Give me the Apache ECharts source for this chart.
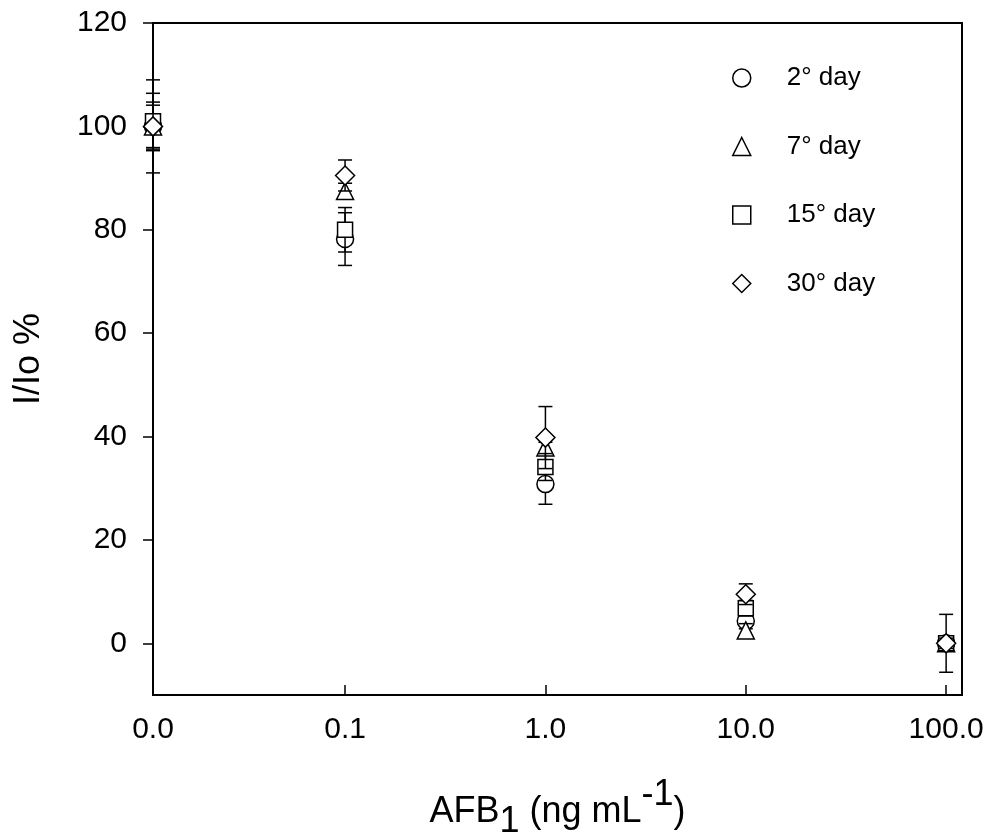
<!DOCTYPE html>
<html>
<head>
<meta charset="utf-8">
<script src="https://cdn.jsdelivr.net/npm/echarts@6/dist/echarts.min.js"></script>
<style>
html,body{margin:0;padding:0;background:#fff;}
#chart{width:995px;height:834px;}
</style>
</head>
<body>
<div id="chart"></div>
<script>
// ---- data ----
const concentrations = [0, 0.1, 1, 10, 100];        // AFB1 (ng mL-1); 0 is drawn at the axis origin
const xAxisMin = 0.011;                               // log-axis origin where concentration 0 is plotted
const xAxisMax = 120;
const xTickValues = [0.011, 0.1, 1, 10, 100];
const xTickLabels = ['0.0', '0.1', '1.0', '10.0', '100.0'];
const yTickValues = [0, 20, 40, 60, 80, 100, 120];
const seriesNames = ['2° day', '7° day', '15° day', '30° day'];
const seriesSymbols = ['circle', 'triangle', 'rect', 'diamond'];
const seriesSymbolSizes = [17, 17, 15, 19];
const day2Mean  = [100, 78.2, 30.8, 4.3, 0];
const day2Err   = [9.0, 5.1, 3.9, 1.5, 5.6];
const day7Mean  = [100, 87.5, 37.9, 2.5, 0];
const day7Err   = [4.1, 1.5, 1.0, 1.3, 1.0];
const day15Mean = [101, 80.0, 34.1, 6.8, 0];
const day15Err  = [5.4, 4.3, 2.6, 1.5, 1.0];
const day30Mean = [100, 90.5, 39.8, 9.5, 0];
const day30Err  = [4.7, 3.0, 6.0, 2.0, 1.0];

const means = [day2Mean, day7Mean, day15Mean, day30Mean];
const errs = [day2Err, day7Err, day15Err, day30Err];
const xPlot = c => (c === 0 ? xAxisMin : c);

const FONT = 'Liberation Sans, Arial, sans-serif';
const series = [];
means.forEach((m, i) => {
  series.push({
    type: 'custom',
    name: seriesNames[i] + ' err',
    z: 2 * i + 2,
    silent: true,
    clip: false,
    encode: { x: 0, y: [1, 2] },
    data: concentrations.map((c, k) => [xPlot(c), m[k] - errs[i][k], m[k] + errs[i][k]]),
    renderItem: function (params, api) {
      const x = api.value(0);
      const lo = api.coord([x, api.value(1)]);
      const hi = api.coord([x, api.value(2)]);
      const hw = 7;
      const st = { stroke: '#000', lineWidth: 1.5 };
      return {
        type: 'group',
        children: [
          { type: 'line', shape: { x1: lo[0], y1: lo[1], x2: hi[0], y2: hi[1] }, style: st },
          { type: 'line', shape: { x1: hi[0] - hw, y1: hi[1], x2: hi[0] + hw, y2: hi[1] }, style: st },
          { type: 'line', shape: { x1: lo[0] - hw, y1: lo[1], x2: lo[0] + hw, y2: lo[1] }, style: st }
        ]
      };
    }
  });
  series.push({
    type: 'scatter',
    name: seriesNames[i],
    z: 2 * i + 3,
    clip: false,
    symbol: seriesSymbols[i],
    symbolSize: seriesSymbolSizes[i],
    itemStyle: { color: '#fff', borderColor: '#000', borderWidth: 1.5, opacity: 1 },
    data: concentrations.map((c, k) => [xPlot(c), m[k]])
  });
});

const chart = echarts.init(document.getElementById('chart'));
chart.setOption({
  animation: false,
  backgroundColor: '#fff',
  grid: { left: 153, right: 33, top: 23, bottom: 139, outerBoundsMode: 'none', containLabel: false, show: true, borderColor: '#000', borderWidth: 2, backgroundColor: 'transparent' },
  legend: {
    data: seriesNames.map((n, i) => ({ name: n, icon: seriesSymbols[i] })),
    orient: 'vertical',
    left: 727,
    top: 60,
    itemWidth: 18,
    itemHeight: 18,
    itemGap: 42.5,
    itemStyle: { color: '#fff', borderColor: '#000', borderWidth: 1.5 },
    textStyle: { fontFamily: FONT, fontSize: 26, color: '#000', padding: [0, 0, 0, 31] }
  },
  xAxis: {
    type: 'log',
    logBase: 10,
    min: xAxisMin,
    max: xAxisMax,
    name: '{a|AFB}{b|1}{a| (ng mL}{c|-1}{a|)}',
    nameLocation: 'middle',
    nameGap: 99,
    nameTextStyle: {
      rich: {
        a: { fontFamily: FONT, fontSize: 36, color: '#000', lineHeight: 36 },
        b: { fontFamily: FONT, fontSize: 36, color: '#000', lineHeight: 36, padding: [20, 0, 0, 0] },
        c: { fontFamily: FONT, fontSize: 36, color: '#000', lineHeight: 36, padding: [0, 0, 34, 0] }
      }
    },
    axisLine: { show: true, onZero: false, lineStyle: { color: '#000', width: 2 } },
    axisTick: { show: true, inside: true, length: 10, customValues: xTickValues.slice(1), lineStyle: { color: '#000', width: 1.5 } },
    minorTick: { show: false },
    splitLine: { show: false },
    axisLabel: {
      customValues: xTickValues,
      formatter: v => {
        let best = 0;
        xTickValues.forEach((t, k) => { if (Math.abs(Math.log10(t) - Math.log10(v)) < Math.abs(Math.log10(xTickValues[best]) - Math.log10(v))) best = k; });
        return xTickLabels[best];
      },
      margin: 20,
      fontFamily: FONT, fontSize: 30, color: '#000'
    }
  },
  yAxis: {
    type: 'value',
    min: -10,
    max: 120,
    name: 'I/Io %',
    nameLocation: 'middle',
    nameGap: 106,
    nameTextStyle: { fontFamily: FONT, fontSize: 36, color: '#000' },
    axisLine: { show: true, onZero: false, lineStyle: { color: '#000', width: 2 } },
    axisTick: { show: true, inside: false, length: 10, customValues: yTickValues, lineStyle: { color: '#000', width: 1.5 } },
    splitLine: { show: false },
    axisLabel: { customValues: yTickValues, margin: 26, fontFamily: FONT, fontSize: 30, color: '#000' }
  },
  series: series
});
</script>
</body>
</html>
